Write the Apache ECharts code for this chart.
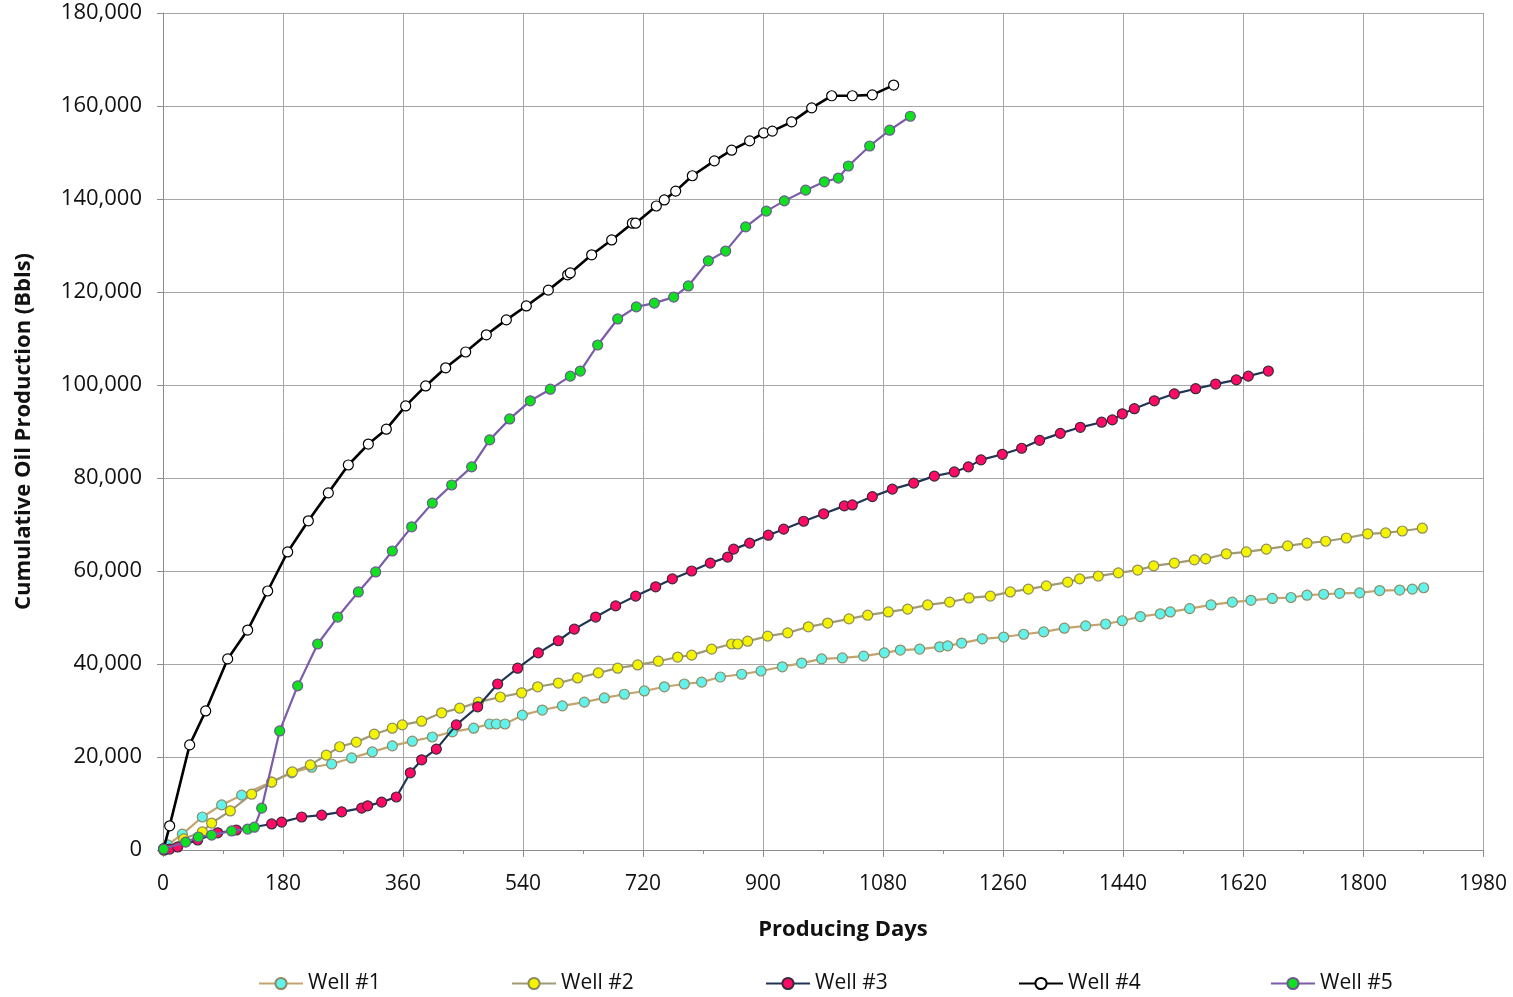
<!DOCTYPE html>
<html>
<head>
<meta charset="utf-8">
<script src="https://cdn.jsdelivr.net/npm/echarts@6/dist/echarts.min.js"></script>
<style>
html,body{margin:0;padding:0;background:#fff;}
#chart{width:1513px;height:997px;}
</style>
</head>
<body>
<div id="chart"></div>
<script>
const seriesNames = ['Well #1','Well #2','Well #3','Well #4','Well #5'];

const days1 = [1,7,29,59,88,118,163,193,223,253,283,314,344,374,404,434,466,490,500,513,539,569,599,632,662,692,722,752,782,808,836,868,897,929,958,988,1019,1051,1082,1106,1135,1165,1177,1198,1229,1261,1291,1321,1352,1384,1414,1439,1466,1496,1511,1540,1572,1604,1632,1664,1692,1716,1741,1765,1795,1825,1855,1874,1891];
const oil1  = [0,1100,3400,7100,9700,11800,14600,16600,17800,18500,19800,21100,22400,23400,24300,25400,26200,27100,27100,27100,29000,30100,31000,31800,32700,33500,34200,35100,35700,36100,37200,37800,38500,39400,40200,41100,41300,41700,42400,43000,43200,43700,43900,44500,45400,45800,46400,46900,47700,48200,48600,49300,50200,50800,51200,51900,52700,53300,53700,54100,54300,54800,55000,55200,55300,55800,55900,56100,56400];

const days2 = [1,31,59,73,101,133,163,194,221,245,265,290,317,344,359,388,418,445,473,506,538,562,593,622,653,682,712,743,772,793,823,853,862,877,907,937,968,997,1029,1057,1088,1117,1147,1180,1209,1241,1271,1298,1325,1357,1375,1403,1433,1462,1486,1517,1547,1564,1595,1625,1655,1687,1716,1744,1775,1807,1834,1859,1889];
const oil2  = [0,2400,3900,5800,8400,12000,14600,16800,18300,20400,22200,23200,24900,26200,26900,27700,29500,30500,31800,32900,33800,35100,35900,37000,38100,39100,39800,40600,41500,41900,43200,44300,44300,44900,46000,46700,48000,48800,49700,50500,51200,51800,52700,53300,54200,54600,55500,56100,56800,57600,58300,58900,59600,60200,61100,61700,62400,62600,63700,64100,64700,65400,66000,66400,67100,68000,68200,68600,69200];

const days3 = [2,10,22,52,82,110,163,178,208,238,268,298,307,328,350,371,388,410,440,472,502,532,563,593,617,649,679,709,739,764,793,821,847,856,880,908,931,961,991,1022,1034,1064,1094,1126,1157,1187,1208,1227,1259,1288,1315,1346,1376,1408,1424,1439,1457,1487,1517,1549,1579,1610,1628,1658];
const oil3  = [0,200,650,2150,3700,4300,5600,6000,7100,7500,8200,9000,9500,10300,11400,16600,19400,21700,26900,30800,35700,39100,42400,45000,47500,50100,52500,54600,56600,58300,60000,61700,63000,64700,66000,67700,69000,70700,72300,74000,74200,76000,77600,78900,80400,81300,82400,83900,85100,86400,88100,89600,90900,92000,92500,93800,94900,96600,98100,99200,100200,101100,101900,103000];

const days4 = [1,10,40,64,97,127,157,187,218,248,278,308,335,364,394,424,454,485,515,545,578,607,611,643,673,704,709,740,752,769,794,827,853,880,901,914,943,973,1003,1034,1064,1096];
const oil4  = [300,5200,22600,29900,41100,47300,55700,64100,70800,76800,82800,87300,90500,95500,99800,103700,107100,110800,114000,117000,120400,123700,124100,128000,131200,134800,134800,138500,139800,141700,145000,148200,150500,152500,154200,154600,156600,159600,162200,162200,162400,164500];

const days5 = [1,34,53,73,103,127,137,148,175,202,232,262,293,319,344,373,404,433,463,490,520,551,581,611,626,652,682,710,737,766,788,818,844,874,905,932,964,992,1013,1028,1060,1090,1121];
const oil5  = [200,1700,2800,3200,4100,4500,4900,9000,25600,35300,44300,50100,55500,59800,64300,69500,74600,78500,82400,88200,92700,96600,99100,101900,103000,108600,114200,116800,117600,118900,121300,126700,128800,134000,137400,139600,141900,143700,144500,147100,151400,154800,157800];

const xTicks = [0,180,360,540,720,900,1080,1260,1440,1620,1800,1980];
const yTicks = [0,20000,40000,60000,80000,100000,120000,140000,160000,180000];

const allDays = [days1,days2,days3,days4,days5];
const allOil = [oil1,oil2,oil3,oil4,oil5];

const lineColors   = ['#C4A46E','#A09A78','#1F3556','#000000','#7A5CA8'];
const fillColors   = ['#62F2EC','#F4F400','#FF0A64','#FFFFFF','#10E020'];
const borderColors = ['#8E8A62','#8A8A5A','#3A2A3A','#000000','#6A5A8E'];
const legendLeft = [253,506,760,1013,1265];

const FONT = 'Open Sans';

const series = seriesNames.map((name,i)=>({
  name: name,
  type: 'line',
  data: allDays[i].map((d,j)=>[d, allOil[i][j]]),
  symbol: 'circle',
  symbolSize: 10,
  showSymbol: true,
  animation: false,
  lineStyle: {color: lineColors[i], width: i===3 ? 2.6 : 2.2},
  itemStyle: {color: fillColors[i], borderColor: borderColors[i], borderWidth: 1.2},
  emphasis: {disabled: true},
  z: 2 + i
}));

const legends = seriesNames.map((name,i)=>({
  data: [name],
  left: legendLeft[i],
  top: 968,
  orient: 'horizontal',
  itemWidth: 44,
  itemHeight: 14,
  itemGap: 5,
  textStyle: {fontFamily: FONT, fontSize: 21, color: '#111'},
  selectedMode: false
}));

const chart = echarts.init(document.getElementById('chart'), null, {renderer: 'canvas'});
chart.setOption({
  backgroundColor: '#ffffff',
  animation: false,
  grid: {left: 163, right: 30, top: 13, bottom: 147, containLabel: false},
  legend: legends,
  xAxis: {
    type: 'value',
    min: xTicks[0], max: xTicks[xTicks.length-1], interval: 180,
    name: 'Producing Days',
    nameLocation: 'middle',
    nameGap: 69,
    nameTextStyle: {fontFamily: FONT, fontSize: 22, fontWeight: 'bold', color: '#111', padding: [0,0,0,40]},
    axisLine: {show: true, lineStyle: {color: '#8C8C8C', width: 1}},
    axisTick: {show: true, inside: false, length: 7, lineStyle: {color: '#8C8C8C'}},
    minorTick: {show: true, splitNumber: 2, length: 4, lineStyle: {color: '#8C8C8C'}},
    axisLabel: {fontFamily: FONT, fontSize: 21, color: '#111', margin: 24,
      formatter: v => String(v)},
    splitLine: {show: true, lineStyle: {color: '#A6A6A6', width: 1}}
  },
  yAxis: {
    type: 'value',
    min: yTicks[0], max: yTicks[yTicks.length-1], interval: 20000,
    name: 'Cumulative Oil Production (Bbls)',
    nameLocation: 'middle',
    nameGap: 128,
    nameRotate: 90,
    nameTextStyle: {fontFamily: FONT, fontSize: 22, fontWeight: 'bold', color: '#111'},
    axisLine: {show: true, lineStyle: {color: '#8C8C8C', width: 1}},
    axisTick: {show: true, inside: false, length: 6, lineStyle: {color: '#8C8C8C'}},
    axisLabel: {fontFamily: FONT, fontSize: 22, color: '#111', margin: 21,
      formatter: v => v.toLocaleString('en-US')},
    splitLine: {show: true, lineStyle: {color: '#A6A6A6', width: 1}}
  },
  series: series
});
</script>
</body>
</html>
